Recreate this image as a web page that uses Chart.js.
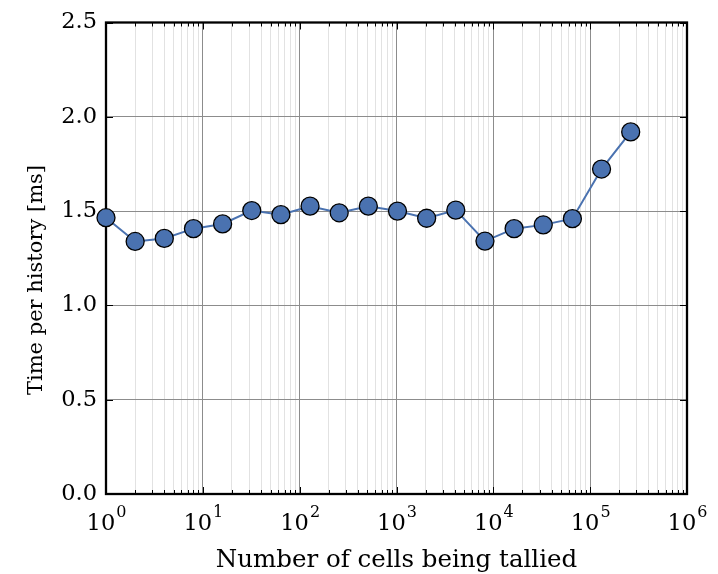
<!DOCTYPE html>
<html>
<head>
<meta charset="utf-8">
<script src="https://cdn.jsdelivr.net/npm/chart.js@4"></script>
<style>
  html, body { margin: 0; padding: 0; background: #fff; }
  #wrap { width: 718px; height: 574px; }
</style>
</head>
<body>
<div id="wrap"><canvas id="myChart" width="718" height="574"></canvas></div>
<script>
// cells tallied (x) and time per history in ms (y)
const cellCounts = [1, 2, 4, 8, 16, 32, 64, 128, 256, 512, 1024, 2048, 4096, 8192,
  16384, 32768, 65536, 131072, 262144];
const timePerHistory = [1.465, 1.339, 1.355, 1.407, 1.432, 1.503, 1.481, 1.526, 1.491,
  1.526, 1.500, 1.462, 1.505, 1.341, 1.407, 1.427, 1.460, 1.723, 1.920];
const decades = [0, 1, 2, 3, 4, 5, 6];
const mantissas = [1, 2, 3, 4, 5, 6, 7, 8, 9];
const yTicks = [0, 0.5, 1.0, 1.5, 2.0, 2.5];

const xLabel = 'Number of cells being tallied';
const yLabel = 'Time per history [ms]';

const FONT = '"DejaVu Serif", serif';
const lineColor = '#4a72b0';

// log ticks: every mantissa in each decade, up to 10^6
let xTickValues = [];
decades.forEach((d) => {
  if (d === decades[decades.length - 1]) {
    xTickValues.push(Math.pow(10, d));
    return;
  }
  mantissas.forEach((m) => xTickValues.push(m * Math.pow(10, d)));
});
const isDecade = (v) => Math.abs(Math.log10(v) - Math.round(Math.log10(v))) < 1e-9;

// black frame and inward tick marks on all four sides
const frameTicks = {
  id: 'frameTicks',
  beforeDatasetsDraw(chart) {
    const { ctx, chartArea: a, scales } = chart;
    ctx.save();
    ctx.strokeStyle = '#000';
    ctx.lineWidth = 1;
    ctx.beginPath();
    scales.x.ticks.forEach((t) => {
      const px = Math.round(scales.x.getPixelForValue(t.value)) + 0.5;
      const len = isDecade(t.value) ? 7 : 4;
      ctx.moveTo(px, a.bottom); ctx.lineTo(px, a.bottom - len);
      ctx.moveTo(px, a.top); ctx.lineTo(px, a.top + len);
    });
    scales.y.ticks.forEach((t) => {
      const py = Math.round(scales.y.getPixelForValue(t.value)) + 0.5;
      ctx.moveTo(a.left, py); ctx.lineTo(a.left + 7, py);
      ctx.moveTo(a.right, py); ctx.lineTo(a.right - 7, py);
    });
    ctx.stroke();
    ctx.lineWidth = 2.3;
    ctx.strokeRect(a.left, a.top, a.right - a.left, a.bottom - a.top);
    ctx.restore();
  },
  afterDraw(chart) {
    const { ctx, chartArea: a, scales } = chart;
    ctx.save();
    ctx.fillStyle = '#000';
    // decade labels as 10 with a raised exponent
    scales.x.ticks.forEach((t) => {
      if (!isDecade(t.value)) return;
      const px = scales.x.getPixelForValue(t.value);
      const exp = String(Math.round(Math.log10(t.value)));
      ctx.font = '22.5px ' + FONT;
      const wBase = ctx.measureText('10').width;
      ctx.font = '16px ' + FONT;
      const wExp = ctx.measureText(exp).width;
      const x0 = px - (wBase + wExp) / 2;
      ctx.textAlign = 'left';
      ctx.textBaseline = 'alphabetic';
      ctx.font = '22.5px ' + FONT;
      ctx.fillText('10', x0, 530);
      ctx.font = '16px ' + FONT;
      ctx.fillText(exp, x0 + wBase + 1, 517);
    });
    // axis titles
    ctx.textAlign = 'center';
    ctx.textBaseline = 'alphabetic';
    ctx.font = '24.5px ' + FONT;
    ctx.fillText(xLabel, (a.left + a.right) / 2, 567);
    ctx.font = '21px ' + FONT;
    ctx.translate(42, 280);
    ctx.rotate(-Math.PI / 2);
    ctx.fillText(yLabel, 0, 0);
    ctx.restore();
  },
};

const ctx = document.getElementById('myChart');
new Chart(ctx, {
  type: 'line',
  data: {
    datasets: [
      {
        data: cellCounts.map((c, i) => ({ x: c, y: timePerHistory[i] })),
        borderColor: lineColor,
        borderWidth: 2,
        backgroundColor: lineColor,
        pointBackgroundColor: lineColor,
        pointBorderColor: '#000',
        pointBorderWidth: 1.3,
        pointRadius: 9,
        pointHoverRadius: 9,
        tension: 0,
        clip: false,
      },
    ],
  },
  options: {
    responsive: false,
    devicePixelRatio: 1,
    animation: false,
    events: [],
    layout: { padding: { left: 0, right: 31, top: 19, bottom: 0 } },
    plugins: { legend: { display: false }, tooltip: { enabled: false } },
    scales: {
      x: {
        type: 'logarithmic',
        min: 1,
        max: 1e6,
        afterBuildTicks: (scale) => {
          scale.ticks = xTickValues.map((v) => ({ value: v, major: isDecade(v) }));
        },
        afterFit: (scale) => { scale.height = 80; },
        ticks: { display: false, autoSkip: false },
        grid: {
          drawTicks: false,
          color: (c) => (c.tick && isDecade(c.tick.value) ? '#8c8c8c' : '#e2e2e2'),
          lineWidth: 1,
        },
        border: { display: false },
      },
      y: {
        min: 0,
        max: 2.5,
        afterBuildTicks: (scale) => {
          scale.ticks = yTicks.map((v) => ({ value: v }));
        },
        afterFit: (scale) => { scale.width = 106; },
        ticks: {
          padding: 9,
          color: '#000',
          font: { family: FONT, size: 22.5 },
          callback: (v) => Number(v).toFixed(1),
        },
        grid: { drawTicks: false, color: '#8c8c8c', lineWidth: 1 },
        border: { display: false },
      },
    },
  },
  plugins: [frameTicks],
});
</script>
</body>
</html>
